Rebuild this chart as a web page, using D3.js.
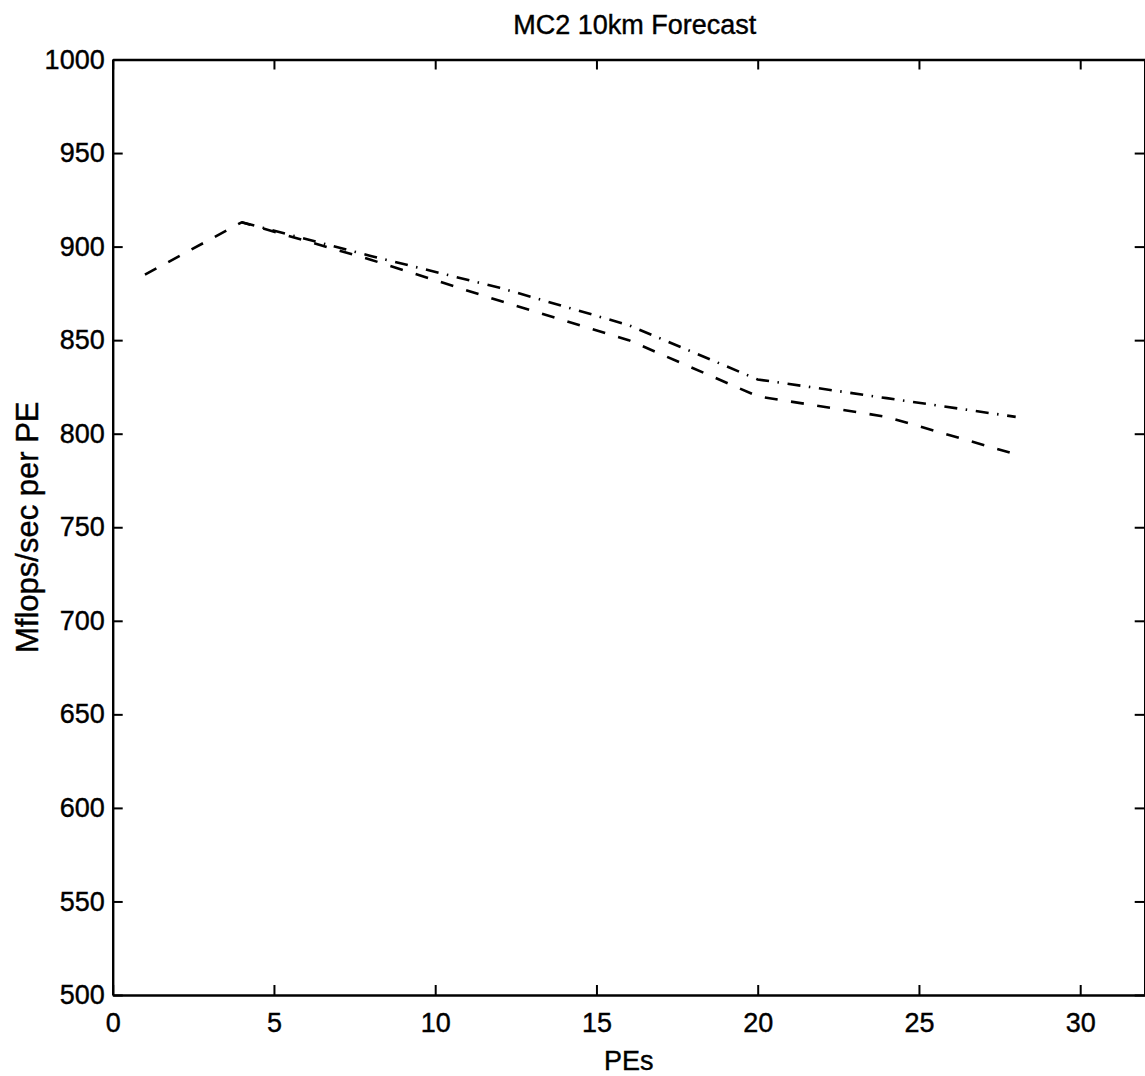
<!DOCTYPE html>
<html>
<head>
<meta charset="utf-8">
<script src="https://cdn.jsdelivr.net/npm/d3@7"></script>
<style>
  html, body { margin: 0; padding: 0; background: #fff; }
  svg { display: block; }
  text { font-family: "Liberation Sans", Arial, Helvetica, sans-serif; fill: #000; }
</style>
</head>
<body>
<svg id="chart" width="1145" height="1076"></svg>
<script>
// Processor counts and sustained rate per PE for the two runs
const pesDashed = [1, 4, 8, 12, 16, 20, 24, 28];
const mflopsDashed = [885, 913, 893, 871, 850, 820, 809, 789];
const pesDashDot = [4, 8, 12, 16, 20, 24, 28];
const mflopsDashDot = [913, 895, 878, 858, 829, 819, 809];

const xTicks = [0, 5, 10, 15, 20, 25, 30];
const yTicks = [500, 550, 600, 650, 700, 750, 800, 850, 900, 950, 1000];

const titleText = "MC2 10km Forecast";
const xLabel = "PEs";
const yLabel = "Mflops/sec per PE";

const svg = d3.select("#chart");
const plotLeft = 112.7, plotRight = 1144.7, plotTop = 59.5, plotBottom = 995;

const x = d3.scaleLinear().domain([0, 32]).range([plotLeft, plotRight]);
const y = d3.scaleLinear().domain([500, 1000]).range([plotBottom, plotTop]);

const tickLen = 10;
const fontSize = 27;
const fmt = d3.format("d");

// Axes: ticks point inward, labels on bottom and left only
const axB = d3.axisBottom(x).tickValues(xTicks).tickFormat(fmt).tickSizeInner(-tickLen).tickSizeOuter(0).tickPadding(18);
const axT = d3.axisTop(x).tickValues(xTicks).tickSizeInner(-tickLen).tickSizeOuter(0).tickFormat("");
const axL = d3.axisLeft(y).tickValues(yTicks).tickFormat(fmt).tickSizeInner(-tickLen).tickSizeOuter(0).tickPadding(8);
const axR = d3.axisRight(y).tickValues(yTicks).tickSizeInner(-tickLen).tickSizeOuter(0).tickFormat("");

function styleAxis(g) {
  g.selectAll("path.domain").attr("stroke", "#000").attr("stroke-width", 2.4);
  g.selectAll(".tick line").attr("stroke", "#000").attr("stroke-width", 2);
  g.selectAll(".tick text").attr("font-size", fontSize)
    .attr("font-family", "Liberation Sans, Arial, Helvetica, sans-serif")
    .attr("fill", "#000").attr("stroke", "#000").attr("stroke-width", 0.4);
}

svg.append("g").attr("transform", `translate(0,${plotBottom})`).call(axB).call(styleAxis);
svg.append("g").attr("transform", `translate(0,${plotTop})`).call(axT).call(styleAxis);
svg.append("g").attr("transform", `translate(${plotLeft},0)`).call(axL).call(styleAxis);
svg.append("g").attr("transform", `translate(${plotRight},0)`).call(axR).call(styleAxis);

// Series lines
const line = d3.line().x(d => x(d[0])).y(d => y(d[1]));

svg.append("path")
  .datum(d3.zip(pesDashed, mflopsDashed))
  .attr("d", line)
  .attr("fill", "none")
  .attr("stroke", "#000")
  .attr("stroke-width", 2.6)
  .attr("stroke-dasharray", "13,13.5");

svg.append("path")
  .datum(d3.zip(pesDashDot, mflopsDashDot))
  .attr("d", line)
  .attr("fill", "none")
  .attr("stroke", "#000")
  .attr("stroke-width", 2.6)
  .attr("stroke-dasharray", "13,8.5,1.5,8.7");

// Title and axis labels
svg.append("text")
  .attr("x", (plotLeft + plotRight) / 2 + 6)
  .attr("y", 34)
  .attr("text-anchor", "middle")
  .attr("font-size", fontSize)
  .attr("stroke", "#000").attr("stroke-width", 0.4)
  .text(titleText);

svg.append("text")
  .attr("x", (plotLeft + plotRight) / 2)
  .attr("y", 1070)
  .attr("text-anchor", "middle")
  .attr("font-size", fontSize)
  .attr("stroke", "#000").attr("stroke-width", 0.4)
  .text(xLabel);

svg.append("text")
  .attr("transform", `translate(38,${(plotTop + plotBottom) / 2}) rotate(-90)`)
  .attr("text-anchor", "middle")
  .attr("font-size", 31)
  .attr("stroke", "#000").attr("stroke-width", 0.4)
  .text(yLabel);
</script>
</body>
</html>
